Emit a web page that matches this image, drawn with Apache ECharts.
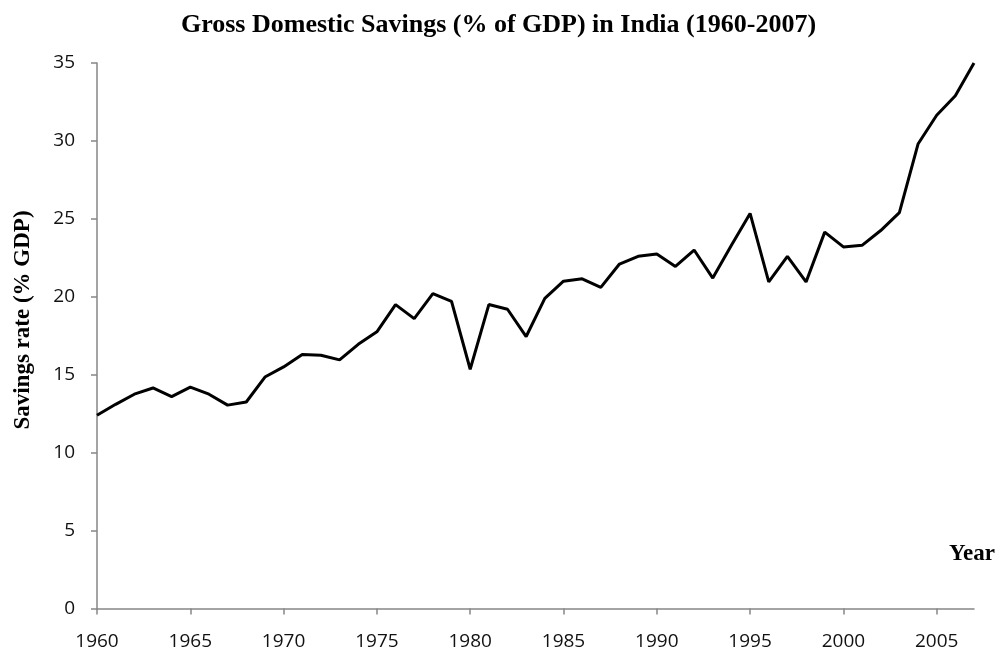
<!DOCTYPE html>
<html>
<head>
<meta charset="utf-8">
<script src="https://cdn.jsdelivr.net/npm/echarts@6/dist/echarts.min.js"></script>
<style>html,body{margin:0;padding:0;background:#fff;}#c{width:997px;height:654px;}</style>
</head>
<body>
<div id="c"></div>
<script>
const years = [1960,1961,1962,1963,1964,1965,1966,1967,1968,1969,1970,1971,1972,1973,1974,1975,1976,1977,1978,1979,1980,1981,1982,1983,1984,1985,1986,1987,1988,1989,1990,1991,1992,1993,1994,1995,1996,1997,1998,1999,2000,2001,2002,2003,2004,2005,2006,2007];
const savings = [12.4,13.1,13.75,14.15,13.6,14.2,13.75,13.05,13.25,14.85,15.5,16.3,16.25,15.95,16.95,17.75,19.5,18.6,20.2,19.7,15.35,19.5,19.2,17.45,19.9,21.0,21.15,20.6,22.1,22.6,22.75,21.95,23.0,21.2,23.3,25.35,20.95,22.6,20.95,24.15,23.2,23.3,24.25,25.4,29.8,31.65,32.9,35.0];
const xTicks = [1960,1965,1970,1975,1980,1985,1990,1995,2000,2005];
const yTicks = [0,5,10,15,20,25,30,35];

const chart = echarts.init(document.getElementById('c'));
const labelFont = '"Open Sans", sans-serif';
const serif = '"Liberation Serif", "DejaVu Serif", serif';
chart.setOption({
  animation: false,
  backgroundColor: '#fff',
  title: [
    {text: 'Gross Domestic Savings (% of GDP) in India (1960-2007)', left: 'center', top: 7,
     textStyle: {fontFamily: serif, fontWeight: 'bold', fontSize: 26, color: '#000'}},
    {text: 'Year', left: 944, top: 538,
     textStyle: {fontFamily: serif, fontWeight: 'bold', fontSize: 23, color: '#000'}}
  ],
  graphic: [{
    type: 'text', x: 23, y: 320, rotation: Math.PI / 2,
    style: {text: 'Savings rate (% GDP)', fontFamily: serif, fontWeight: 'bold', fontSize: 23,
            fill: '#000', align: 'center', verticalAlign: 'middle'}
  }],
  grid: {left: 97, right: 23, top: 63, bottom: 45.5, containLabel: false, outerBoundsMode: 'none'},
  xAxis: {
    type: 'value', min: 1960, max: 2007, interval: 5,
    axisLine: {show: true, onZero: false, lineStyle: {color: '#868686', width: 1.5}},
    axisTick: {show: true, length: 6, customValues: xTicks, lineStyle: {color: '#868686', width: 1.5}},
    axisLabel: {customValues: xTicks, margin: 24, fontFamily: labelFont, fontSize: 19, color: '#111',
                formatter: v => String(v)},
    splitLine: {show: false}
  },
  yAxis: {
    type: 'value', min: 0, max: 35, interval: 5,
    axisLine: {show: true, lineStyle: {color: '#868686', width: 1.5}},
    axisTick: {show: true, length: 6, lineStyle: {color: '#868686', width: 1.5}},
    axisLabel: {customValues: yTicks, margin: 22, fontFamily: labelFont, fontSize: 19, color: '#111',
                formatter: v => String(v)},
    splitLine: {show: false}
  },
  series: [{
    type: 'line',
    data: years.map((y, i) => [y, savings[i]]),
    symbol: 'none',
    clip: false,
    lineStyle: {color: '#000', width: 3}
  }]
});
</script>
</body>
</html>
